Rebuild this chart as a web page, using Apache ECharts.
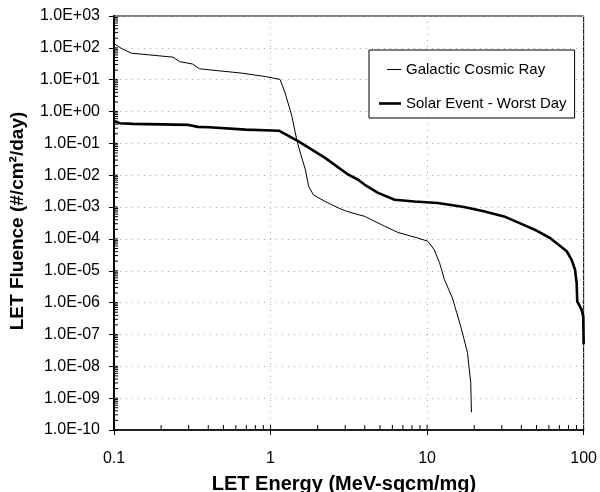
<!DOCTYPE html>
<html>
<head>
<meta charset="utf-8">
<script src="https://cdn.jsdelivr.net/npm/echarts@6/dist/echarts.min.js"></script>
<style>html,body{margin:0;padding:0;background:#fff}#c{width:600px;height:492px}</style>
</head>
<body>
<div id="c"></div>
<script>
// ---- data ----
const gcrLET = [0.100, 0.112, 0.129, 0.169, 0.238, 0.262, 0.318, 0.351, 0.47, 0.661, 0.93, 1.15, 1.24, 1.37, 1.47, 1.55, 1.67, 1.75, 1.88, 2.23, 2.71, 3.06, 3.63, 4.0, 5.36, 6.5, 8.7, 10.1, 11.1, 12.0, 12.9, 14.5, 16.4, 18.1, 19.0, 19.2];
const gcrFluence = [135, 95, 68, 60, 51, 37, 31, 22, 19, 16, 12.5, 10.2, 3.8, 0.7, 0.13, 0.05, 0.0148, 0.0045, 0.0024, 1.5e-3, 9.4e-4, 7.4e-4, 5.8e-4, 5.1e-4, 2.5e-4, 1.6e-4, 1.07e-4, 8.5e-5, 4.6e-5, 1.8e-5, 5.3e-6, 1.4e-6, 1.8e-7, 2.7e-8, 3.1e-9, 3.6e-10];

const solarLET = [0.100, 0.109, 0.133, 0.30, 0.343, 0.406, 0.694, 1.13, 1.51, 2.23, 3.14, 3.63, 4.0, 4.86, 6.2, 8.3, 11.7, 17.2, 23, 31, 41, 50.3, 61, 78, 83.8, 88, 90.2, 91, 97, 99.4, 100];
const solarFluence = [0.50, 0.43, 0.41, 0.38, 0.33, 0.32, 0.27, 0.25, 0.115, 0.035, 0.0104, 7.2e-3, 5.0e-3, 2.8e-3, 1.7e-3, 1.5e-3, 1.35e-3, 1.0e-3, 7.4e-4, 5.1e-4, 2.8e-4, 1.8e-4, 1.07e-4, 4.1e-5, 2.2e-5, 1.1e-5, 4.2e-6, 1.1e-6, 6e-7, 3.7e-7, 4.9e-8];

const seriesNames = ['Galactic Cosmic Ray', 'Solar Event - Worst Day'];
const xTickLabels = ['0.1', '1', '10', '100'];
const xDecades = [0.1, 1, 10];
const yDecades = [1e-10, 1e-9, 1e-8, 1e-7, 1e-6, 1e-5, 1e-4, 1e-3, 1e-2, 1e-1, 1, 10, 100];
const minorMultipliers = [1, 2, 3, 4, 5, 6, 7, 8, 9];
const xMin = 0.1, xMax = 100, yMin = 1e-10, yMax = 1e3;

// ---- build ----
const FONT = '"Liberation Sans", Arial, sans-serif';
const zip = (a, b) => a.map((v, i) => [v, b[i]]);
const xMinorTicks = [];
xDecades.forEach(d => minorMultipliers.forEach(m => xMinorTicks.push([d * m, yMin])));
const yMinorTicks = [];
yDecades.forEach(d => minorMultipliers.forEach(m => yMinorTicks.push([xMin, d * m])));

function fmtY(v) {
  const e = Math.round(Math.log10(v));
  return '1.0E' + (e >= 0 ? '+' : '-') + String(Math.abs(e)).padStart(2, '0');
}
function fmtX(v) {
  const e = Math.round(Math.log10(v));
  return xTickLabels[e + 1] !== undefined ? xTickLabels[e + 1] : String(v);
}

const chart = echarts.init(document.getElementById('c'), null, {renderer: 'canvas'});
chart.setOption({
  animation: false,
  backgroundColor: '#fff',
  textStyle: {fontFamily: FONT},
  grid: {left: 114, right: 13, top: 16, bottom: 62, show: true, borderColor: '#000', borderWidth: 1},
  xAxis: {
    type: 'log', logBase: 10, min: xMin, max: xMax, splitNumber: 3,
    axisLine: {show: true, lineStyle: {color: '#000', width: 1.5}},
    axisTick: {show: true, inside: false, length: 5, lineStyle: {color: '#000', width: 1}},
    axisLabel: {margin: 21, fontSize: 16, color: '#000', fontFamily: FONT, formatter: fmtX, interval: 0},
    splitLine: {show: true, lineStyle: {color: '#aaa', type: [1, 5], width: 1}},
    minorTick: {show: false}
  },
  yAxis: {
    type: 'log', logBase: 10, min: yMin, max: yMax, interval: 1,
    axisLine: {show: true, lineStyle: {color: '#000', width: 2}},
    axisTick: {show: true, inside: false, length: 5, lineStyle: {color: '#000', width: 1}},
    axisLabel: {margin: 14, fontSize: 16, color: '#000', fontFamily: FONT, formatter: fmtY, interval: 0},
    splitLine: {show: true, lineStyle: {color: '#aaa', type: [1, 5], width: 1}}
  },
  legend: {
    orient: 'vertical', left: 369, top: 50,
    itemWidth: 22, itemHeight: 14, itemGap: 19,
    padding: [12, 8, 7, 10],
    borderColor: '#000', borderWidth: 1, backgroundColor: '#fff',
    textStyle: {fontSize: 15, color: '#000', fontFamily: FONT},
    data: [
      {name: seriesNames[0], icon: 'path://M0,0 M0,14 M8,6.5 H22 V7.5 H8 Z', itemStyle: {color: '#000'}},
      {name: seriesNames[1], icon: 'path://M0,0 M0,14 M0,5.7 H22 V8.3 H0 Z', itemStyle: {color: '#000'}}
    ]
  },
  graphic: [
    {type: 'text', x: 344, y: 484,
     style: {text: 'LET Energy (MeV-sqcm/mg)', font: 'bold 20px ' + FONT, fill: '#000', align: 'center', verticalAlign: 'middle'}},
    {type: 'text', x: 18, y: 221, rotation: Math.PI / 2,
     style: {text: 'LET Fluence (#/cm²/day)', font: 'bold 19px ' + FONT, fill: '#000', align: 'center', verticalAlign: 'middle'}}
  ],
  series: [
    {name: seriesNames[0], type: 'line', data: zip(gcrLET, gcrFluence), symbol: 'none', smooth: false,
     lineStyle: {color: '#000', width: 1}, itemStyle: {color: '#000'}, z: 3},
    {name: seriesNames[1], type: 'line', data: zip(solarLET, solarFluence), symbol: 'none', smooth: false,
     lineStyle: {color: '#000', width: 2.6}, itemStyle: {color: '#000'}, z: 4},
    {name: 'xticks', type: 'custom', silent: true, clip: false, data: xMinorTicks,
     renderItem: (params, api) => {
       const p = api.coord([api.value(0), api.value(1)]);
       return {type: 'line', shape: {x1: p[0], y1: p[1], x2: p[0], y2: p[1] - 5}, style: {stroke: '#000', lineWidth: 1}};
     }},
    {name: 'yticks', type: 'custom', silent: true, clip: false, data: yMinorTicks,
     renderItem: (params, api) => {
       const p = api.coord([api.value(0), api.value(1)]);
       return {type: 'line', shape: {x1: p[0], y1: p[1], x2: p[0] + 4, y2: p[1]}, style: {stroke: '#000', lineWidth: 1}};
     }}
  ]
});
</script>
</body>
</html>
